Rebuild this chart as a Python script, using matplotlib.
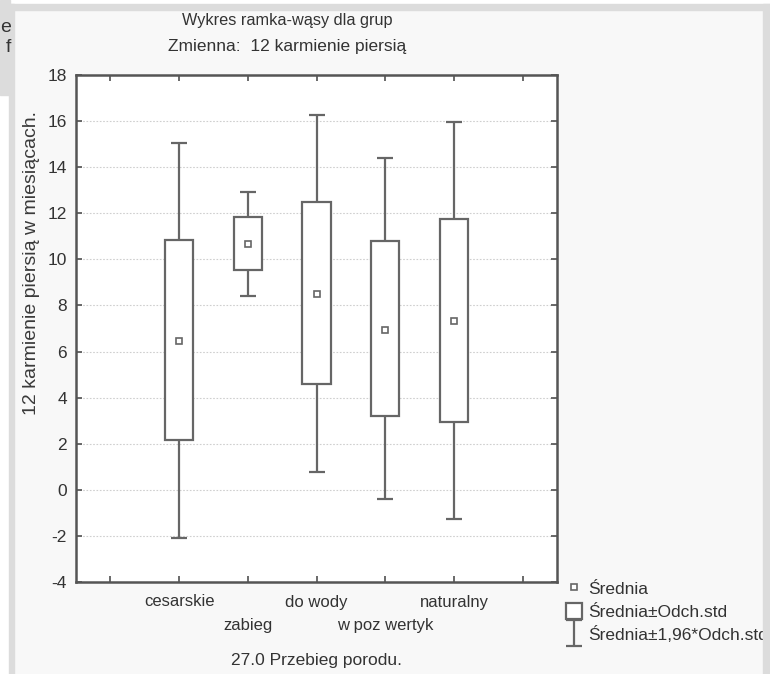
import matplotlib
matplotlib.use("Agg")
import matplotlib.pyplot as plt
from matplotlib.patches import Rectangle
from matplotlib.legend_handler import HandlerErrorbar

# -----------------------------------------------------------------------------
# Data
# -----------------------------------------------------------------------------
groups = ["cesarskie", "zabieg", "do wody", "w poz wertyk", "naturalny"]
means = [6.46, 10.68, 8.49, 6.93, 7.32]
box_lo = [2.16, 9.54, 4.59, 3.20, 2.94]
box_hi = [10.83, 11.83, 12.48, 10.80, 11.74]
whisk_lo = [-2.10, 8.40, 0.77, -0.40, -1.27]
whisk_hi = [15.05, 12.92, 16.25, 14.40, 15.95]
y_ticks = [-4, -2, 0, 2, 4, 6, 8, 10, 12, 14, 16, 18]

# -----------------------------------------------------------------------------
# Style
# -----------------------------------------------------------------------------
plt.rcParams.update({
    "font.family": ["Liberation Sans", "DejaVu Sans"],
    "font.size": 12,
    "text.color": "#333333",
    "axes.labelcolor": "#333333",
    "xtick.color": "#505050",
    "ytick.color": "#505050",
    "xtick.labelcolor": "#333333",
    "ytick.labelcolor": "#333333",
})

C_LINE = "#666666"
C_SPINE = "#555555"
C_PANEL = "#f8f8f8"
C_FRAME = "#dcdcdc"

W, H = 770, 674
fig = plt.figure(figsize=(W / 100, H / 100), dpi=100)
fig.patch.set_facecolor("white")


def px(x0, y0, x1, y1):
    # figure-fraction rectangle from pixel box (top-left origin)
    return (x0 / W, 1 - y1 / H, (x1 - x0) / W, (y1 - y0) / H)


# screenshot frame: light panel with grey borders
panel = px(14, 10, 763, 674)
fig.patches.append(Rectangle(panel[:2], *panel[2:], transform=fig.transFigure,
                             color=C_PANEL, zorder=-5))
for box in [px(9, 4, 770, 10), px(9, 4, 14, 674), px(763, 4, 770, 674), px(0, 0, 10, 95)]:
    fig.patches.append(Rectangle(box[:2], *box[2:], transform=fig.transFigure,
                                 color=C_FRAME, zorder=10))
fig.text(11 / W, 1 - 28 / H, "e", ha="right", va="center", fontsize=14, zorder=11)
fig.text(11 / W, 1 - 48 / H, "f", ha="right", va="center", fontsize=14, zorder=11)

ax = fig.add_axes(px(76, 75, 557, 582))
ax.set_facecolor("white")

x = list(range(1, len(groups) + 1))

# whiskers (mean +/- 1.96 sd)
err = ax.errorbar(
    x, means,
    yerr=[[m - lo for m, lo in zip(means, whisk_lo)],
          [hi - m for m, hi in zip(means, whisk_hi)]],
    fmt="none", ecolor=C_LINE, elinewidth=1.6, capsize=5.8, capthick=1.6, zorder=2,
)

# boxes (mean +/- sd)
bars = ax.bar(
    x, [h - l for h, l in zip(box_hi, box_lo)], bottom=box_lo, width=0.41,
    facecolor="white", edgecolor=C_LINE, linewidth=1.6, zorder=3,
)

# means
pts, = ax.plot(x, means, ls="none", marker="s", ms=5, mfc="white",
               mec=C_LINE, mew=1.2, zorder=4)

ax.set_xlim(-0.5, 6.5)
ax.set_ylim(-4, 18)
ax.set_yticks(y_ticks)
ax.set_yticklabels([str(v) for v in y_ticks])

# first row of category labels as tick labels, second row staggered below
row1 = ["", groups[0], "", groups[2], "", groups[4], ""]
ax.set_xticks(range(7))
ax.set_xticklabels(row1)
for i in (1, 3):
    ax.annotate(groups[i], xy=(x[i], 0), xycoords=("data", "axes fraction"),
                xytext=(0, -31.5), textcoords="offset points",
                ha="center", va="center", color="#333333", fontsize=12)

ax.tick_params(direction="in", length=4, width=1.2, top=True, right=True)
ax.tick_params(axis="x", pad=9, labelsize=12)
ax.tick_params(axis="y", pad=6.5, labelsize=12.5)

ax.grid(True, axis="y", linestyle=(0, (1.5, 1.5)), linewidth=0.8, color="#cfcfcf", zorder=0)
ax.set_axisbelow(True)

for sp in ax.spines.values():
    sp.set_color(C_SPINE)
    sp.set_linewidth(1.8)

ax.set_xlabel("27.0 Przebieg porodu.", labelpad=31, fontsize=12.5)
ax.set_ylabel("12 karmienie piersią w miesiącach.", fontsize=14, color="#3a3a3a")
ax.yaxis.set_label_coords(-0.075, 0.63)

fig.text(287 / W, 1 - 20 / H, "Wykres ramka-wąsy dla grup", ha="center", va="center",
         fontsize=11.7)
fig.text(287 / W, 1 - 47 / H, "Zmienna:  12 karmienie piersią", ha="center", va="center",
         fontsize=12.5)

ax.legend(
    [pts, bars, err],
    ["Średnia", "Średnia±Odch.std", "Średnia±1,96*Odch.std"],
    handler_map={type(err): HandlerErrorbar(yerr_size=0.75, numpoints=1)},
    loc="upper left", bbox_to_anchor=(566 / W, 1 - 580 / H),
    bbox_transform=fig.transFigure, frameon=False, borderpad=0, borderaxespad=0,
    handlelength=0.92, handleheight=1.1, handletextpad=0.35, labelspacing=0.32,
    numpoints=1, fontsize=12.5,
)

fig.savefig("out.png", dpi=100, facecolor=fig.get_facecolor())
